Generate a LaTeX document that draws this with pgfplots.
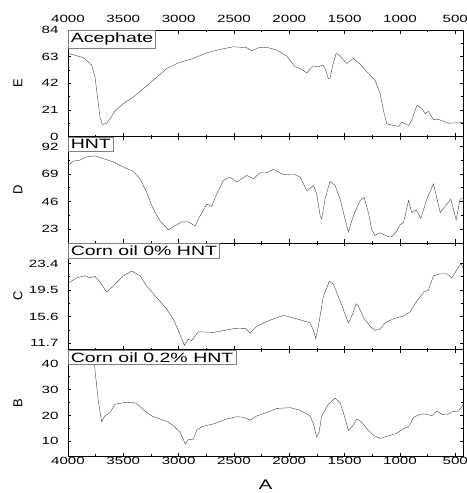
\documentclass[border=0pt]{standalone}
\usepackage{pgfplots}
\pgfplotsset{compat=1.18}
\usepgfplotslibrary{groupplots}
\usepackage{fontspec}
\setmainfont[FakeStretch=1.45]{Liberation Sans}
\newfontfamily\rotfont{Liberation Sans}

\tikzset{tag/.style={draw=gray, fill=white, anchor=north west, inner sep=2.5bp,
    line width=0.6bp, font=\fontsize{13.5}{15}\selectfont}}

\begin{document}
\begin{tikzpicture}
\begin{groupplot}[
  group style={group name=ir, group size=1 by 4, vertical sep=0pt},
  scale only axis, width=395bp, height=106.5bp,
  x dir=reverse, xmin=430, xmax=4000,
  xtick={500,1000,...,4000}, minor x tick num=1, minor y tick num=1,
  major tick length=3.5bp, minor tick length=2bp,
  tick style={black, line width=0.6bp},
  axis line style={line width=0.8bp},
  ticklabel style={font=\fontsize{10.5}{12}\selectfont},
  /pgf/number format/assume math mode=true,
  /pgf/number format/1000 sep={},
  ylabel style={at={(axis description cs:0,0.5)}, anchor=center, yshift=50bp,
    font=\rotfont\fontsize{13}{15}\selectfont},
  yticklabel style={xshift=-6bp},
  cycle list={{black!75, line width=0.6bp}},
]

\nextgroupplot[xticklabel pos=upper, xticklabel style={yshift=4bp},
  ymin=0, ymax=84, ytick={0,21,42,63,84}, ylabel={E}]
\addplot coordinates {
(4000,65.5) (3862,62.3) (3786,56.3) (3756,47) (3741,36.5) (3711,15.3) (3690,9.5)
(3650,10.5) (3620,14) (3575,20) (3500,25.9) (3410,31.1) (3319,37.8) (3229,44.4)
(3108,53.6) (3017,57.6) (2867,61.6) (2746,66) (2626,68.7) (2505,70.8) (2384,70)
(2339,67.6) (2279,70) (2203,70.4) (2113,68.2) (2022,63.4) (1947,54.9) (1902,53.6)
(1842,50.2) (1782,55.7) (1737,54.9) (1697,56.3) (1677,53.6) (1647,45.7) (1632,46)
(1607,56.3) (1577,65.5) (1547,64) (1481,57.6) (1421,61.6) (1360,57) (1300,51)
(1225,44.4) (1179,33.8) (1149,20.6) (1119,10) (1059,8.7) (1013,8) (983,11.3)
(923,8.7) (893,12.7) (847,24.6) (802,22) (772,18) (742,19.8) (697,13.2) (651,13.5)
(561,10.5) (425,11)
};
\node[tag] at (rel axis cs:0,1) {Acephate};

\nextgroupplot[xticklabels={}, ymin=11.3, ymax=100.3, ytick={23,46,69,92}, ylabel={D}]
\addplot coordinates {
(4000,76.3) (3952,79.7) (3892,80.6) (3831,83.3) (3756,84.1) (3680,81.9) (3590,79)
(3500,74.8) (3410,71.2) (3349,65) (3289,53.7) (3229,39.6) (3168,29.8) (3093,22.2)
(3047,25) (2971,28.9) (2911,28.9) (2852,25.5) (2806,34) (2746,43.8) (2701,42)
(2656,52.3) (2596,63.6) (2535,66.4) (2475,62.2) (2384,67.8) (2324,65) (2264,70)
(2203,70) (2143,72.9) (2053,68.3) (1962,69) (1902,66.4) (1842,55.1) (1812,57)
(1782,59.4) (1752,52.3) (1721,34) (1707,31.4) (1677,48) (1632,62.7) (1586,59.4)
(1541,48) (1496,31.4) (1466,20.5) (1421,34) (1360,46.7) (1324,49.5) (1285,36.7)
(1255,22.7) (1225,17.6) (1179,19.8) (1104,16.5) (1074,16.5) (1029,21.3) (998,26.8)
(968,28.1) (923,46.7) (893,36.7) (854,39) (811,31.8) (757,48) (697,60.7) (636,36.7)
(576,43.8) (540,48) (492,30.6) (456,48) (425,49.5)
};
\node[tag] at (rel axis cs:0,1) {HNT};

\nextgroupplot[xticklabels={}, ymin=10.8, ymax=26.4, ytick={11.7,15.6,19.5,23.4}, ylabel={C}]
\addplot coordinates {
(4000,20.5) (3922,21.3) (3847,21.6) (3801,21.3) (3756,21.5) (3711,20.7) (3650,19.2)
(3590,20.1) (3500,21.6) (3424,22.3) (3349,21.6) (3289,20.1) (3198,18.4) (3108,16.7)
(3047,15.2) (2987,13.0) (2948,11.4) (2912,12.3) (2882,12.1) (2822,13.4) (2686,13.3)
(2505,13.85) (2400,13.9) (2354,13.2) (2294,14.2) (2173,15.1) (2053,15.8) (1932,15.3)
(1812,14.7) (1782,13.6) (1761,12.4) (1737,14.2) (1692,18.6) (1638,20.8) (1602,20.4)
(1541,17.9) (1466,14.7) (1427,16) (1397,17.5) (1376,17.2) (1331,15.5) (1270,14.2)
(1225,13.6) (1179,13.8) (1134,14.7) (1059,15.3) (968,15.7) (908,16.3) (847,17.9)
(787,19.2) (742,19.5) (697,21.6) (636,21.9) (576,21.9) (530,21.3) (485,22.5)
(449,23.4) (431,22.8)
};
\node[tag] at (rel axis cs:0,1) {Corn oil 0\% HNT};

\nextgroupplot[xticklabel pos=lower, xticklabel style={yshift=2bp},
  ymin=4.3, ymax=45.5, ytick={10,20,30,40}, ylabel={B},
  xlabel={A}, xlabel style={font=\fontsize{14}{16}\selectfont, yshift=-8bp}]
\addplot coordinates {
(4000,60) (3800,55) (3770,46) (3756,37.5) (3726,25.5) (3696,17.6) (3666,19.8)
(3620,21.1) (3575,24.3) (3500,24.9) (3424,25.1) (3379,24.6) (3289,21.1) (3229,19.5)
(3108,17.7) (3047,16) (2987,13.5) (2939,8.9) (2912,10.6) (2867,10.8) (2837,14.2)
(2791,15.7) (2686,16.7) (2565,18.6) (2475,19.5) (2415,19.3) (2354,18.2) (2294,19.8)
(2203,21.1) (2113,22.7) (1992,23) (1902,22) (1812,19.8) (1782,16.7) (1752,11.6)
(1731,13.5) (1707,19.8) (1647,24.3) (1586,26.7) (1541,24.9) (1511,21.1) (1466,14.2)
(1427,16) (1391,18.6) (1346,17.4) (1300,14.9) (1240,12.3) (1179,11.1) (1119,11.9)
(1029,13.1) (953,15.2) (923,15.4) (878,19.2) (817,20.5) (757,20.5) (712,19.9)
(666,21.7) (621,20.4) (561,20.5) (530,21.5) (470,21.7) (425,24.3)
};
\node[tag] at (rel axis cs:0,1) {Corn oil 0.2\% HNT};
\end{groupplot}
\pgfresetboundingbox
\path ([xshift=-68bp,yshift=30bp]ir c1r1.north west) rectangle ([xshift=3bp,yshift=-37bp]ir c1r4.south east);
\end{tikzpicture}
\end{document}
